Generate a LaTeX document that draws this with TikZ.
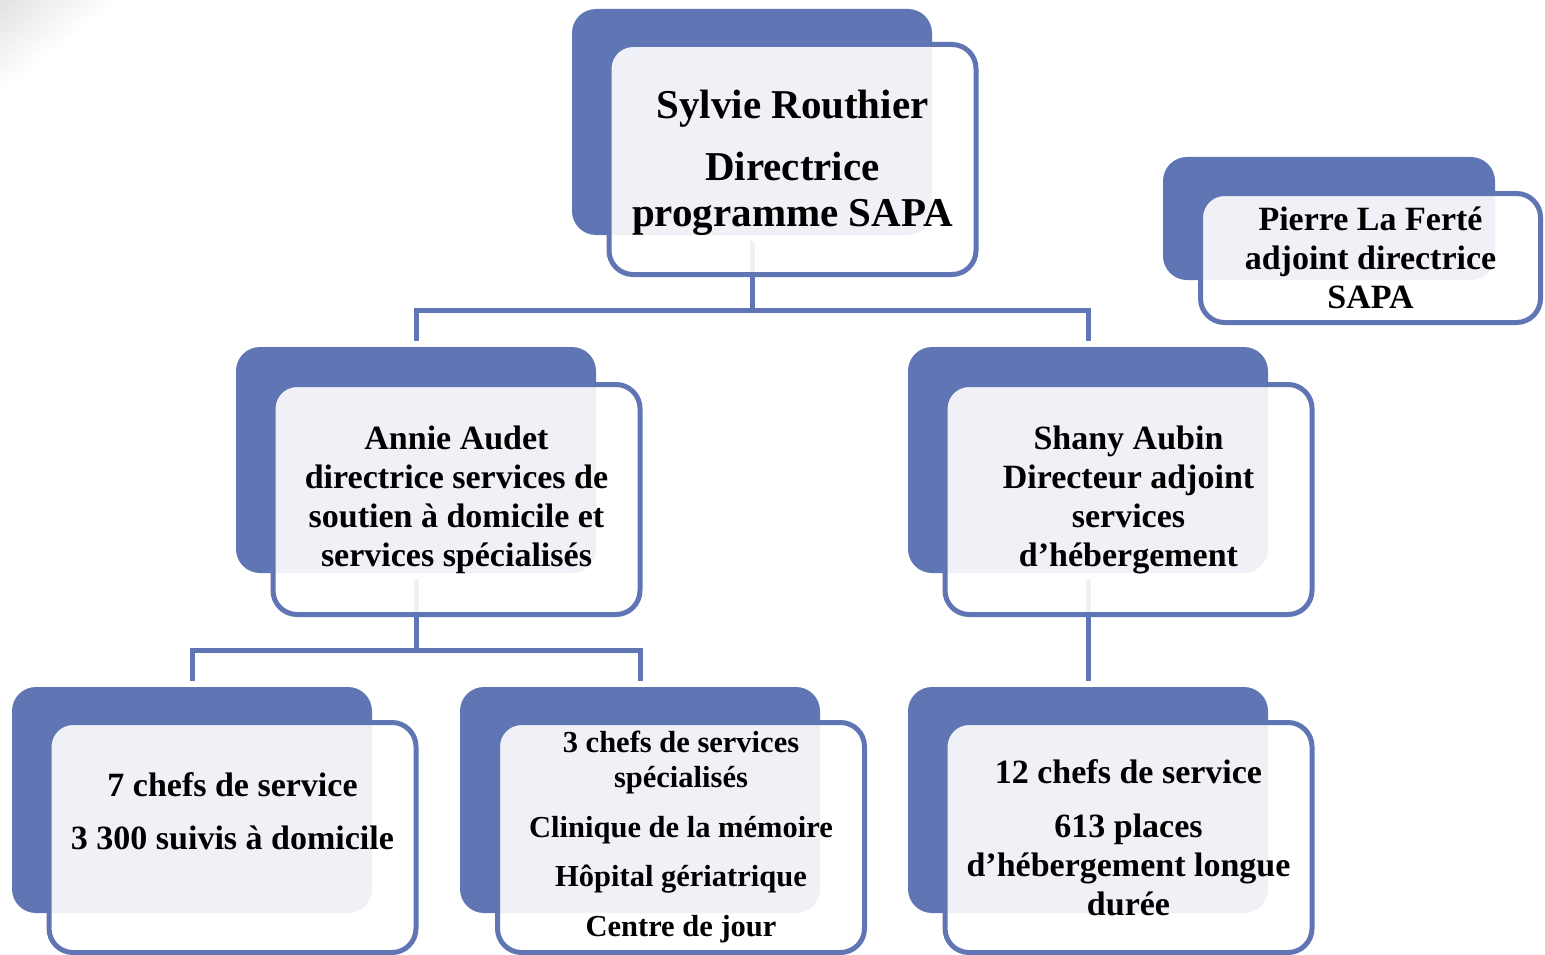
\documentclass[tikz,border=0pt]{standalone}
\usepackage{fontspec}
\setmainfont{Liberation Serif}
\usetikzlibrary{positioning}
\usetikzlibrary{calc}
\definecolor{sapablue}{RGB}{96,118,180}
\tikzstyle{backbox}=[rectangle,rounded corners=24pt,fill=sapablue,minimum width=360pt,minimum height=226pt,inner sep=0pt]
\tikzstyle{frontbox}=[rectangle,rounded corners=24pt,draw=sapablue,line width=5pt,fill=white,fill opacity=0.9,text opacity=1,minimum width=367pt,minimum height=230pt,inner sep=0pt,align=center]
\tikzstyle{link}=[draw=sapablue,line width=5pt,shorten <=6pt,shorten >=6pt]
\tikzstyle{bigtext}=[font=\fontsize{41}{46}\selectfont\bfseries]
\tikzstyle{midtext}=[font=\fontsize{34}{39}\selectfont\bfseries]
\tikzstyle{smalltext}=[font=\fontsize{30.5}{35}\selectfont\bfseries]

\begin{document}
\begin{tikzpicture}[x=1pt,y=-1pt]
\useasboundingbox (0,0) rectangle (1545,955);

% background corner
\foreach \t in {1,0.95,...,0.04} {
  \pgfmathsetmacro\shadeval{12*(1-\t)}
  \fill[black!\shadeval] (0,0) -- (120*\t,0) -- (0,95*\t) -- cycle;
}

% blue back boxes
\foreach \pos/\name in {{(752,122)}/sylvie, {(416,460)}/annie, {(1088,460)}/shany, {(192,800)}/domicile, {(640,800)}/specialises, {(1088,800)}/hebergement}
    \node[backbox] (\name) at \pos {};
\node[backbox,minimum width=332pt,minimum height=123pt] (pierre) at (1329,218.5) {};

% connectors
\draw[link] (sylvie.south) -- ++(0,75) -| (annie.north);
\draw[link] (sylvie.south) -- ++(0,75) -| (shany.north);
\draw[link] (annie.south) -- ++(0,77) -| (domicile.north);
\draw[link] (annie.south) -- ++(0,77) -| (specialises.north);
\draw[link] (shany.south) -- (hebergement.north);

% front boxes
\node[frontbox,bigtext] (sylvieF) at ($(sylvie.center)+(40.5,37.5)$) {\rule{0pt}{36pt}Sylvie Routhier\\[16pt]Directrice\\programme SAPA};
\node[frontbox,midtext,minimum width=340pt,minimum height=129pt] (pierreF) at ($(pierre.center)+(41.5,39.5)$) {Pierre La Ferté\\adjoint directrice\\SAPA};
\node[frontbox,midtext] (annieF) at ($(annie.center)+(40.5,39.5)$) {Annie Audet\\directrice services de\\soutien à domicile et\\services spécialisés};
\node[frontbox,midtext] (shanyF) at ($(shany.center)+(40.5,39.5)$) {Shany Aubin\\Directeur adjoint\\services\\d’hébergement};
\node[frontbox,midtext] (domicileF) at ($(domicile.center)+(40.5,37.5)$) {7 chefs de service\\[14pt]3 300 suivis à domicile\\[14pt]~};
\node[frontbox,smalltext] (specialisesF) at ($(specialises.center)+(41,37.5)$) {3 chefs de services\\spécialisés\\[15pt]Clinique de la mémoire\\[14pt]Hôpital gériatrique\\[15pt]Centre de jour};
\node[frontbox,midtext] (hebergementF) at ($(hebergement.center)+(40.5,37.5)$) {12 chefs de service\\[15pt]613 places\\d’hébergement longue\\durée};

\end{tikzpicture}
\end{document}
